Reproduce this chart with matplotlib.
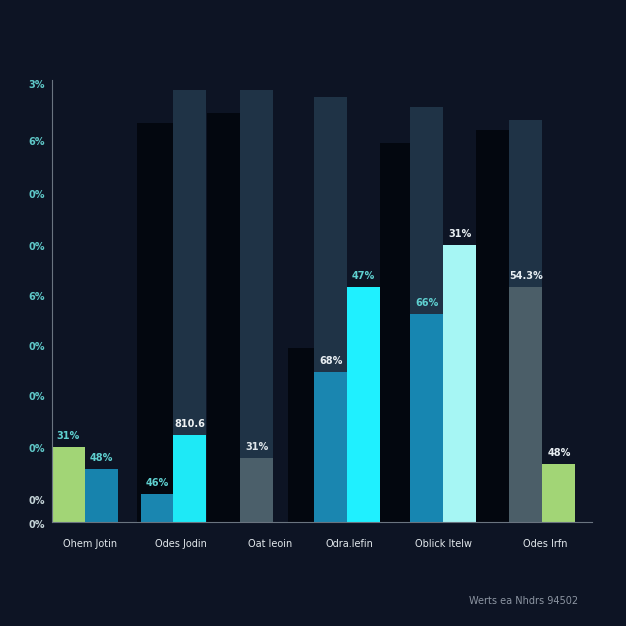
import matplotlib
matplotlib.use("Agg")
import matplotlib.pyplot as plt

# --- data ---
categories = ["Ohem Jotin", "Odes Jodin", "Oat leoin", "Odra.lefin", "Oblick Itelw", "Odes Irfn"]
left_vals = [17.0, 6.3, 14.5, 33.9, 47.1, 53.2]
right_vals = [12.0, 19.7, None, 53.2, 62.7, 13.1]
left_text = ["31%", "46%", "31%", "68%", "66%", "54.3%"]
right_text = ["48%", "810.6", None, "47%", "31%", "48%"]
shadow_vals = [90.3, 92.5, 39.4, 85.7, 88.7]     # near-black back bars
backdrop_vals = [97.8, 97.8, 96.2, 93.9, 91.0]   # slate back bars
ytick_vals = [98.9, 86.0, 74.0, 62.2, 50.9, 39.6, 28.3, 16.5, 4.75, -0.7]
ytick_text = ["3%", "6%", "0%", "0%", "6%", "0%", "0%", "0%", "0%", "0%"]

# --- layout / style ---
bg = "#0d1424"
left_x = [0, 2.7, 5.7, 7.94, 10.85, 13.85]
right_x = [1, 3.67, None, 8.94, 11.85, 14.85]
left_w = [1, 0.97, 1, 1, 1, 1]
left_col = ["#a2d576", "#1a86b0", "#4b5f6a", "#1a86b0", "#1786b1", "#4b5e68"]
right_col = ["#1783ad", "#1ee9f6", None, "#1ff0ff", "#a6f6f4", "#a2d576"]
left_tc = ["#5fd0d0", "#5fd0d0", "#dfe6ea", "#e8eef2", "#5fd0d0", "#e8eef2"]
right_tc = ["#5fd0d0", "#eef2f4", None, "#5fd0d0", "#e8eef2", "#e8eef2"]
shadow_x = [2.58, 4.7, 7.15, 9.94, 12.85]
shadow_w = [1.09, 1.0, 0.79, 0.9, 1.0]
backdrop_x = [3.67, 5.7, 7.94, 10.85, 13.85]
cat_x = [1.15, 3.9, 6.6, 9.0, 11.85, 14.95]

fig = plt.figure(figsize=(6.26, 6.26), dpi=100, facecolor=bg)
ax = fig.add_axes([0.083, 0.166, 0.863, 0.706])
ax.set_facecolor(bg)

ax.bar(shadow_x, shadow_vals, width=shadow_w, align="edge", color="#03070f", zorder=1)
ax.bar(backdrop_x, backdrop_vals, width=1, align="edge", color="#1f3346", zorder=1)

for i in range(len(categories)):
    ax.bar(left_x[i], left_vals[i], width=left_w[i], align="edge", color=left_col[i], zorder=2)
    ax.text(left_x[i] + left_w[i] / 2, left_vals[i] + 1.4, left_text[i], color=left_tc[i],
            ha="center", va="bottom", fontsize=7, fontweight="bold", zorder=3)
    if right_vals[i] is not None:
        ax.bar(right_x[i], right_vals[i], width=1, align="edge", color=right_col[i], zorder=2)
        ax.text(right_x[i] + 0.5, right_vals[i] + 1.4, right_text[i], color=right_tc[i],
                ha="center", va="bottom", fontsize=7, fontweight="bold", zorder=3)
    ax.text(cat_x[i], -5.0, categories[i], color="#e2e8ec", ha="center", va="center",
            fontsize=7, clip_on=False)

ax.set_xlim(0, 16.36)
ax.set_ylim(0, 100)
ax.set_xticks([])
ax.set_yticks([])
for i, (v, t) in enumerate(zip(ytick_vals, ytick_text)):
    c = "#5fc8c8" if i < 8 else "#c5d4d8"
    ax.text(-0.2, v, t, color=c, ha="right", va="center", fontsize=7, fontweight="bold",
            clip_on=False)

for s in ["top", "right"]:
    ax.spines[s].set_visible(False)
ax.spines["left"].set_color("#6a7480")
ax.spines["bottom"].set_color("#6a7480")
ax.spines["left"].set_linewidth(0.8)
ax.spines["bottom"].set_linewidth(0.8)

fig.text(0.837, 0.040, "Werts ea Nhdrs 94502", color="#8c95a2", ha="center", va="center",
         fontsize=7)

fig.savefig("out.png", dpi=100, facecolor=bg)
